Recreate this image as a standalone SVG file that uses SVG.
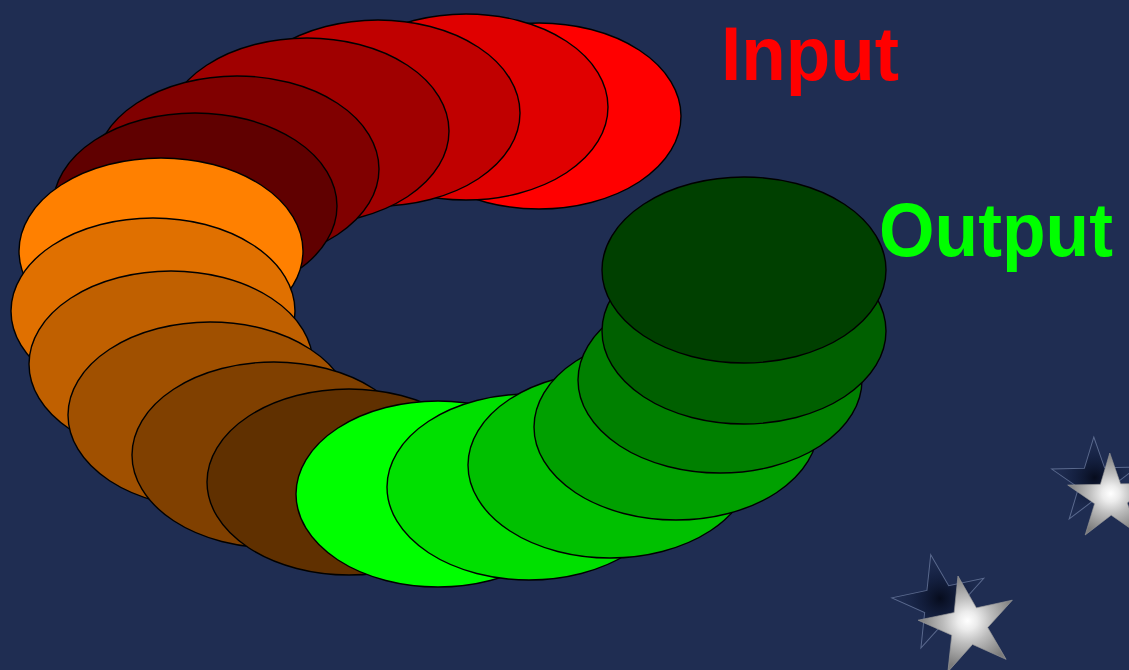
<svg xmlns="http://www.w3.org/2000/svg" width="1129" height="670" viewBox="0 0 1129 670">
  <defs>
    <style>
      .ring { stroke: #000000; stroke-width: 1.4; }
      .label { font-family: "Liberation Sans", Arial, sans-serif; font-weight: bold; font-size: 76px; }
      .silver { fill: url(#silverGrad); stroke: #9a9a9a; }
      .shadow { fill: url(#shadowGrad); stroke: #8a9ac0; stroke-opacity: 0.55; }
    </style>
    <radialGradient id="silverGrad" cx="50%" cy="50%" r="50%">
      <stop offset="0" stop-color="#ffffff"/>
      <stop offset="0.2" stop-color="#ececec"/>
      <stop offset="0.5" stop-color="#bdbdbd"/>
      <stop offset="0.8" stop-color="#969696"/>
      <stop offset="1" stop-color="#7c7c7c"/>
    </radialGradient>
    <radialGradient id="shadowGrad" cx="50%" cy="50%" r="50%">
      <stop offset="0" stop-color="#050a1a" stop-opacity="0.95"/>
      <stop offset="0.5" stop-color="#0f1a38" stop-opacity="0.6"/>
      <stop offset="1" stop-color="#1f2d52" stop-opacity="0.2"/>
    </radialGradient>
    <path id="star" d="M0,-1 L0.2245,-0.309 L0.951,-0.309 L0.3633,0.118 L0.5878,0.809 L0,0.382 L-0.5878,0.809 L-0.3633,0.118 L-0.951,-0.309 L-0.2245,-0.309 Z"/>
  </defs>

  <rect x="0" y="0" width="1129" height="670" fill="#1f2d52"/>

  <g id="ring">
    <ellipse class="ring" cx="539" cy="116" rx="142" ry="93" fill="#ff0000"/>
    <ellipse class="ring" cx="466" cy="107" rx="142" ry="93" fill="#e00000"/>
    <ellipse class="ring" cx="378" cy="113" rx="142" ry="93" fill="#c00000"/>
    <ellipse class="ring" cx="307" cy="131" rx="142" ry="93" fill="#a00000"/>
    <ellipse class="ring" cx="237" cy="169" rx="142" ry="93" fill="#800000"/>
    <ellipse class="ring" cx="195" cy="206" rx="142" ry="93" fill="#600000"/>
    <ellipse class="ring" cx="161" cy="251" rx="142" ry="93" fill="#ff8000"/>
    <ellipse class="ring" cx="153" cy="311" rx="142" ry="93" fill="#e07000"/>
    <ellipse class="ring" cx="171" cy="364" rx="142" ry="93" fill="#c06000"/>
    <ellipse class="ring" cx="210" cy="415" rx="142" ry="93" fill="#a05000"/>
    <ellipse class="ring" cx="274" cy="455" rx="142" ry="93" fill="#804000"/>
    <ellipse class="ring" cx="349" cy="482" rx="142" ry="93" fill="#603000"/>
    <ellipse class="ring" cx="438" cy="494" rx="142" ry="93" fill="#00ff00"/>
    <ellipse class="ring" cx="529" cy="487" rx="142" ry="93" fill="#00e000"/>
    <ellipse class="ring" cx="610" cy="465" rx="142" ry="93" fill="#00c000"/>
    <ellipse class="ring" cx="676" cy="427" rx="142" ry="93" fill="#00a000"/>
    <ellipse class="ring" cx="720" cy="380" rx="142" ry="93" fill="#008000"/>
    <ellipse class="ring" cx="744" cy="331" rx="142" ry="93" fill="#006000"/>
    <ellipse class="ring" cx="744" cy="270" rx="142" ry="93" fill="#004000"/>
  </g>

  <g id="labels">
    <text class="label" x="721" y="80" fill="#ff0000" textLength="178" lengthAdjust="spacingAndGlyphs">Input</text>
    <text class="label" x="879" y="256" fill="#00ff00" textLength="234" lengthAdjust="spacingAndGlyphs">Output</text>
  </g>

  <g id="stars">
    <use href="#star" class="shadow" transform="translate(941,603) rotate(-12) scale(49.4)" style="stroke-width:0.02"/>
    <use href="#star" class="silver" transform="translate(968.5,625.5) rotate(-12) scale(50.6)" style="stroke-width:0.012"/>
    <use href="#star" class="shadow" transform="translate(1094.8,482) rotate(-1.3) scale(45)" style="stroke-width:0.022"/>
    <use href="#star" class="silver" transform="translate(1110.8,498) rotate(-1.3) scale(45)" style="stroke-width:0.013"/>
  </g>
</svg>
